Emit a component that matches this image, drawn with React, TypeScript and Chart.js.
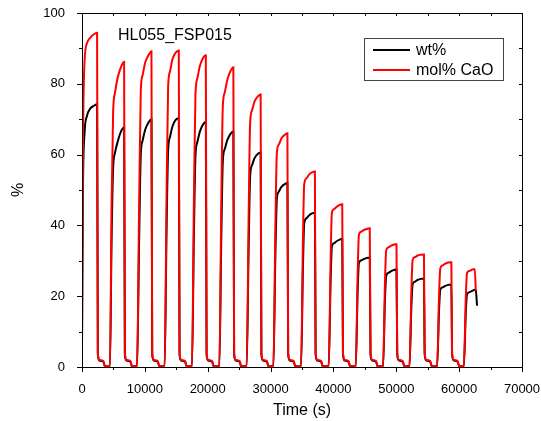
import React, { useEffect, useRef } from "react";
import { Chart, registerables } from "chart.js";

Chart.register(...registerables);

const FONT = '"Liberation Sans", Arial, sans-serif';

// Time (s)
const timeS = [
  0, 150, 400, 800, 1300, 1900, 2400, 2520, 2800, 3400, 3650, 4450,
  4700, 4950, 5250, 5650, 6150, 6700, 6820, 7100, 7700, 7950, 8750,
  9100, 9350, 9650, 10050, 10550, 11050, 11170, 11450, 12050, 12300, 13150,
  13450, 13700, 14000, 14400, 14900, 15400, 15520, 15800, 16400, 16650, 17500,
  17800, 18050, 18350, 18750, 19250, 19700, 19820, 20100, 20700, 20950, 21850,
  22150, 22400, 22700, 23100, 23600, 24080, 24200, 24480, 25080, 25330, 26200,
  26500, 26750, 27050, 27450, 27950, 28420, 28540, 28820, 29420, 29670, 30450,
  30750, 31000, 31300, 31700, 32200, 32680, 32800, 33080, 33680, 33930, 34850,
  35150, 35350, 35700, 36150, 36600, 37050, 37170, 37450, 38050, 38300, 39250,
  39550, 39750, 40100, 40550, 41000, 41400, 41520, 41800, 42400, 42650, 43550,
  43850, 44050, 44400, 44850, 45300, 45780, 45900, 46180, 46780, 47030, 47900,
  48200, 48400, 48750, 49200, 49650, 50030, 50150, 50430, 51030, 51280, 52100,
  52400, 52600, 52950, 53400, 53900, 54400, 54520, 54800, 55400, 55650, 56500,
  56800, 57000, 57350, 57800, 58250, 58760, 58880, 59160, 59760, 60010, 60750,
  61050, 61250, 61600, 62050, 62480, 62650, 62850,
];

// wt%
const wtPct = [
  5, 50, 66, 71, 73, 73.8, 74.2, 3.5, 1.8, 1.5, 0.2, 0.2,
  35, 56, 60.5, 63.5, 66.3, 67.7, 3.5, 1.8, 1.5, 0.2, 0.2,
  37, 60, 64, 67, 69, 70, 3.5, 1.8, 1.5, 0.2, 0.2,
  38, 61, 65, 68, 69.8, 70.3, 3.5, 1.8, 1.5, 0.2, 0.2,
  37, 59.5, 63.5, 66.5, 68.5, 69.3, 3.5, 1.8, 1.5, 0.2, 0.2,
  35, 58, 61.5, 64, 65.8, 66.5, 3.5, 1.8, 1.5, 0.2, 0.2,
  32, 54, 57, 59, 60.2, 60.6, 3.5, 1.8, 1.5, 0.2, 0.2,
  30, 47.5, 49.5, 50.8, 51.6, 52, 3.5, 1.8, 1.5, 0.2, 0.2,
  28, 40.5, 42, 42.9, 43.4, 43.6, 3.5, 1.8, 1.5, 0.2, 0.2,
  24, 34, 35, 35.6, 36, 36.2, 3.5, 1.8, 1.5, 0.2, 0.2,
  21, 29.3, 30.1, 30.5, 30.8, 30.9, 3.5, 1.8, 1.5, 0.2, 0.2,
  19, 25.8, 26.6, 27.1, 27.4, 27.6, 3.5, 1.8, 1.5, 0.2, 0.2,
  17, 23.4, 24.1, 24.6, 24.9, 25, 3.5, 1.8, 1.5, 0.2, 0.2,
  16, 21.8, 22.5, 22.9, 23.2, 23.3, 3.5, 1.8, 1.5, 0.2, 0.2,
  15, 20.5, 21.1, 21.5, 21.8, 21.6, 17.3,
];

// mol% CaO
const molPctCaO: (number | null)[] = [
  7, 62, 86, 91.5, 93, 94, 94.4, 4, 2, 1.7, 0.2, 0.2,
  45, 72, 77.5, 81.5, 84.5, 86.2, 4, 2, 1.7, 0.2, 0.2,
  47, 78, 82.5, 86, 88, 89.2, 4, 2, 1.7, 0.2, 0.2,
  48, 79, 83.5, 87, 88.8, 89.4, 4, 2, 1.7, 0.2, 0.2,
  47, 77, 81.5, 85, 87.3, 88.1, 4, 2, 1.7, 0.2, 0.2,
  45, 73.5, 77.5, 81, 83.5, 84.7, 4, 2, 1.7, 0.2, 0.2,
  41, 69, 72.5, 75, 76.4, 77, 4, 2, 1.7, 0.2, 0.2,
  38, 60.5, 62.8, 64.5, 65.5, 66, 4, 2, 1.7, 0.2, 0.2,
  36, 51.5, 53.3, 54.4, 55, 55.2, 4, 2, 1.7, 0.2, 0.2,
  30, 43.5, 44.6, 45.3, 45.8, 46, 4, 2, 1.7, 0.2, 0.2,
  26, 37.2, 38.2, 38.7, 39, 39.2, 4, 2, 1.7, 0.2, 0.2,
  24, 33, 33.8, 34.3, 34.6, 34.7, 4, 2, 1.7, 0.2, 0.2,
  21.5, 30.2, 31, 31.5, 31.7, 31.8, 4, 2, 1.7, 0.2, 0.2,
  20, 27.8, 28.7, 29.2, 29.5, 29.6, 4, 2, 1.7, 0.2, 0.2,
  19, 26.5, 27.1, 27.5, 27.7, 21.5, null,
];

const xMajorTicks = [0, 10000, 20000, 30000, 40000, 50000, 60000, 70000];
const yMajorTicks = [0, 20, 40, 60, 80, 100];
const seriesNames = ["wt%", "mol% CaO"];
const seriesColors = ["#000000", "#ff0000"];
const sampleLabel = "HL055_FSP015";

const framePlugin = {
  id: "frameAndLegend",
  afterDraw(chart: any) {
    const { ctx, chartArea: a, scales } = chart;
    const xs = scales.x;
    const ys = scales.y;
    ctx.save();
    ctx.strokeStyle = "#000";
    ctx.lineWidth = 1;
    ctx.strokeRect(Math.round(a.left) + 0.5, Math.round(a.top) + 0.5, Math.round(a.right - a.left), Math.round(a.bottom - a.top));

    const xStep = (xMajorTicks[1] - xMajorTicks[0]) / 2;
    const xMax = xMajorTicks[xMajorTicks.length - 1];
    for (let v = xMajorTicks[0]; v <= xMax; v += xStep) {
      const px = Math.round(xs.getPixelForValue(v)) + 0.5;
      const major = xMajorTicks.includes(v);
      ctx.beginPath();
      ctx.moveTo(px, a.bottom);
      ctx.lineTo(px, a.bottom + (major ? 5 : 3));
      ctx.moveTo(px, a.top);
      ctx.lineTo(px, a.top + 3);
      ctx.stroke();
    }
    const yStep = (yMajorTicks[1] - yMajorTicks[0]) / 2;
    const yMax = yMajorTicks[yMajorTicks.length - 1];
    for (let v = yMajorTicks[0]; v <= yMax; v += yStep) {
      const py = Math.round(ys.getPixelForValue(v)) + 0.5;
      const major = yMajorTicks.includes(v);
      ctx.beginPath();
      ctx.moveTo(a.left, py);
      ctx.lineTo(a.left - (major ? 5 : 3), py);
      ctx.moveTo(a.right, py);
      ctx.lineTo(a.right - 3, py);
      ctx.stroke();
    }

    // sample label
    ctx.fillStyle = "#000";
    ctx.font = `16px ${FONT}`;
    ctx.textBaseline = "middle";
    ctx.textAlign = "left";
    ctx.fillText(sampleLabel, a.left + 36, a.top + 23);

    // legend
    const lx = a.right - 158;
    const ly = a.top + 25;
    ctx.strokeStyle = "#444";
    ctx.lineWidth = 1;
    ctx.strokeRect(lx + 0.5, ly + 0.5, 139, 42);
    seriesNames.forEach((name, i) => {
      const cy = ly + 12 + i * 20;
      ctx.strokeStyle = seriesColors[i];
      ctx.lineWidth = 2;
      ctx.beginPath();
      ctx.moveTo(lx + 9, cy);
      ctx.lineTo(lx + 46, cy);
      ctx.stroke();
      ctx.fillStyle = "#000";
      ctx.fillText(name, lx + 52, cy + 1);
    });
    ctx.restore();
  },
};

export default function App() {
  const ref = useRef<HTMLCanvasElement>(null);
  useEffect(() => {
    document.body.style.margin = "0";
    const wtData = timeS.map((t, i) => ({ x: t, y: wtPct[i] }));
    const molData = timeS.map((t, i) => ({ x: t, y: molPctCaO[i] }));
    const chart = new Chart(ref.current!, {
      type: "line",
      data: {
        datasets: [
          {
            label: seriesNames[1],
            data: molData as any,
            borderColor: seriesColors[1],
            borderWidth: 2,
            pointRadius: 0,
            fill: false,
            cubicInterpolationMode: "monotone",
            order: 0,
          },
          {
            label: seriesNames[0],
            data: wtData,
            borderColor: seriesColors[0],
            borderWidth: 2,
            pointRadius: 0,
            fill: false,
            cubicInterpolationMode: "monotone",
            order: 1,
          },
        ],
      },
      options: {
        responsive: false,
        animation: false,
        devicePixelRatio: 1,
        layout: { padding: { left: 0, right: 19, top: 13, bottom: 0 } },
        plugins: { legend: { display: false }, tooltip: { enabled: false } },
        scales: {
          x: {
            type: "linear",
            min: 0,
            max: 70000,
            grid: { display: false },
            border: { display: false },
            afterBuildTicks: (s: any) => {
              s.ticks = xMajorTicks.map((v) => ({ value: v }));
            },
            afterFit: (s: any) => {
              s.height = 54;
              s.paddingLeft = 0;
              s.paddingRight = 0;
            },
            ticks: {
              color: "#000",
              font: { family: FONT, size: 13 },
              padding: 7,
              maxRotation: 0,
              autoSkip: false,
              callback: (v: any) => String(v),
            },
            title: {
              display: true,
              text: "Time (s)",
              color: "#000",
              font: { family: FONT, size: 16 },
              padding: { top: 0, bottom: 1 },
            },
          },
          y: {
            type: "linear",
            min: 0,
            max: 100,
            grid: { display: false },
            border: { display: false },
            afterBuildTicks: (s: any) => {
              s.ticks = yMajorTicks.map((v) => ({ value: v }));
            },
            afterFit: (s: any) => {
              s.width = 82;
              s.paddingTop = 0;
              s.paddingBottom = 0;
            },
            ticks: {
              color: "#000",
              font: { family: FONT, size: 13 },
              padding: 9,
              autoSkip: false,
              callback: (v: any) => String(v),
            },
            title: {
              display: true,
              text: "%",
              color: "#000",
              font: { family: FONT, size: 16 },
              padding: { top: 9, bottom: 0 },
            },
          },
        },
      },
      plugins: [framePlugin],
    });
    return () => chart.destroy();
  }, []);
  return <canvas ref={ref} width={541} height={421} style={{ display: "block" }} />;
}
